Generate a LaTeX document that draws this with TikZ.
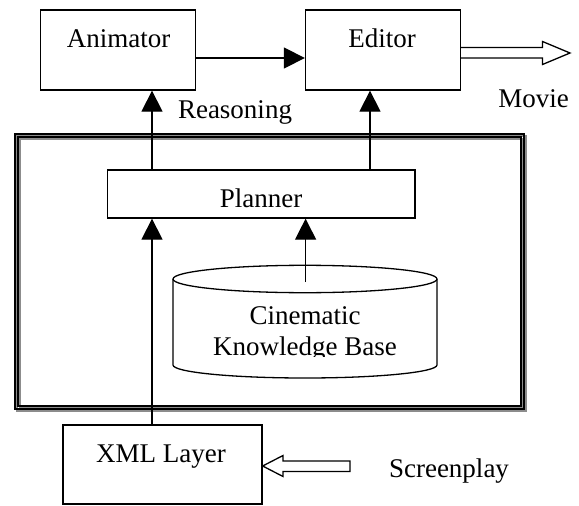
\documentclass[tikz,border=0pt]{standalone}
\usepackage{fontspec}
\setmainfont{Liberation Serif}
\usetikzlibrary{arrows.meta}

\tikzset{
  box/.style={draw, line width=1.3pt, inner sep=0pt},
  lbl/.style={anchor=base, inner sep=0pt, font=\fontsize{27}{31}\selectfont},
  link/.style={line width=1.3pt, -{Triangle[length=21pt,width=21pt]}},
  hollow/.style={draw, line width=1.3pt, fill=white},
  frameline/.style={line width=1.3pt},
  shadowline/.style={line width=1.3pt, draw=black!45}
}

\begin{document}
\begin{tikzpicture}[x=1pt, y=-1pt]
\useasboundingbox (0,0) rectangle (579,506);

% outer frame around the reasoning part: double line with a grey shadow
\draw[shadowline] (17,136) rectangle (526,411);
\draw[shadowline] (20,139) rectangle (523,408);
\draw[frameline] (15,134) rectangle (524,409);
\draw[frameline] (18,137) rectangle (521,406);

% boxes
\node[box, minimum width=155pt, minimum height=80pt] (anim)   at (118.2,50) {};
\node[box, minimum width=155pt, minimum height=80pt] (editor) at (383,50) {};
\node[box, minimum width=307.5pt, minimum height=48pt] (planner) at (261.1,194) {};
\node[box, minimum width=199pt, minimum height=79pt] (xml) at (162.5,464.5) {};

% box labels
\node[lbl] (animtxt)   at (118.5,47) {Animator};
\node[lbl] (edtxt)     at (382,47) {Editor};
\node[lbl] (plantxt)   at (261,207) {Planner};
\node[lbl] (xmltxt)    at (161,462) {XML Layer};
\node[lbl] (reason)    at (235,118) {Reasoning};
\node[lbl] (movie)     at (533.5,107) {Movie};
\node[lbl] (screen)    at (449,477) {Screenplay};

% knowledge base cylinder
\draw[line width=1.3pt] (173,279) -- (173,365)
  arc[start angle=180, end angle=0, x radius=132, y radius=13] -- (437,279);
\draw[line width=1.3pt] (305,279) ellipse[x radius=132, y radius=13.7];
\node[lbl] (kbtxt1) at (305,324) {Cinematic};
\begin{scope}
  \clip (150,330) rectangle (460,356.5);
  \node[lbl] (kbtxt2) at (305,355) {Knowledge Base};
\end{scope}
\coordinate (kbtop) at (305.6,282);

% x positions of the vertical links
\coordinate (lx) at (152,0);
\coordinate (rx) at (370,0);

% links
\draw[link] (anim.east |- 0,58) -- (editor.west |- 0,58);
\draw[link] (planner.north -| lx) -- (anim.south -| lx);
\draw[link] (planner.north -| rx) -- (editor.south -| rx);
\draw[link] (xml.north -| lx) -- (planner.south -| lx);
\draw[link] (kbtop) -- (planner.south -| kbtop);

% hollow arrows: movie out of the editor, screenplay into the XML layer
\draw[hollow] (editor.east |- 0,47.5) -- (542.5,47.5) -- (542.5,41.5) -- (570,53)
  -- (542.5,64.5) -- (542.5,58) -- (editor.east |- 0,58);
\draw[hollow] (xml.east |- 0,466) -- (283,455.5) -- (283,461) -- (350,461)
  -- (350,471.5) -- (283,471.5) -- (283,476.5) -- cycle;
\end{tikzpicture}
\end{document}
